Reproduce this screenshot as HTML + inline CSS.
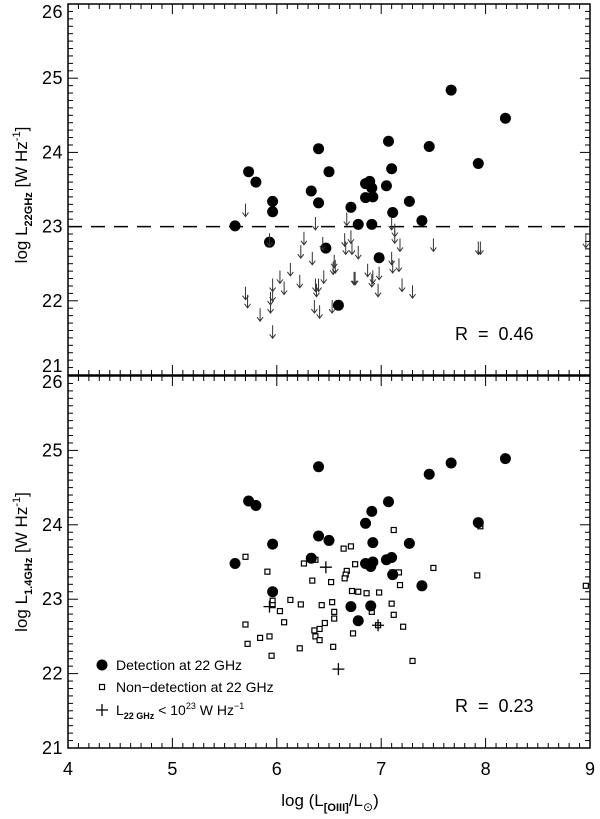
<!DOCTYPE html>
<html><head><meta charset="utf-8"><style>
html,body{margin:0;padding:0;background:#fff;}
svg{display:block;font-family:"Liberation Sans",sans-serif;}
</style></head><body>
<svg id="chart" width="600" height="819" viewBox="0 0 600 819" xmlns="http://www.w3.org/2000/svg"></svg>
<script>
const xTicks=[4,5,6,7,8,9];
const yTicks=[21,22,23,24,25,26];
const topDetX=[5.60,5.73,5.80,5.96,5.96,5.93,6.40,6.50,6.33,6.40,6.47,6.59,6.71,6.78,6.89,6.85,6.91,6.85,6.92,6.91,6.98,7.07,7.10,7.05,7.11,7.27,7.39,7.46,7.67,7.93,8.19];
const topDetY=[23.01,23.74,23.60,23.34,23.20,22.79,24.05,23.74,23.48,23.32,22.71,21.94,23.26,23.03,23.61,23.58,23.52,23.39,23.40,23.03,22.58,24.15,23.78,23.55,23.19,23.34,23.08,24.08,24.84,23.85,24.46];
const topLimX=[5.70,5.93,5.96,5.96,5.94,5.94,5.70,5.72,5.84,5.96,6.03,6.07,6.13,6.22,6.23,6.26,6.34,6.37,6.37,6.40,6.45,6.36,6.41,6.53,6.55,6.54,6.65,6.66,6.67,6.71,6.72,6.74,6.75,6.78,6.87,6.91,6.98,6.97,7.10,7.13,7.13,7.10,7.11,7.18,7.17,7.20,7.30,7.50,7.93,7.95,8.96,6.44,6.56,6.38,6.92];
const topLimY=[23.31,22.91,22.30,22.17,22.12,22.01,22.19,22.08,21.90,21.67,22.41,22.26,22.51,22.35,22.75,22.93,22.66,23.13,22.30,22.30,22.41,22.01,21.94,22.01,22.62,22.53,22.91,22.80,23.19,22.95,22.80,22.39,22.39,22.74,22.50,22.36,22.46,22.23,23.13,23.04,22.95,22.66,22.55,22.84,22.57,22.30,22.21,22.84,22.80,22.80,22.89,22.86,22.55,22.23,22.41];
const botDetX=[5.60,5.73,5.80,5.96,5.96,6.40,6.40,6.50,6.33,6.71,6.78,6.85,6.91,6.92,6.85,6.90,6.92,6.90,7.07,7.05,7.10,7.11,7.27,7.39,7.46,7.67,7.93,8.19];
const botDetY=[23.48,24.32,24.26,23.74,23.10,24.78,23.85,23.79,23.55,22.90,22.71,24.02,24.18,23.76,23.48,23.44,23.50,22.91,24.31,23.53,23.56,23.33,23.75,23.18,24.68,24.83,24.03,24.89];
const botNonX=[5.70,5.91,5.96,5.96,6.03,6.07,6.13,6.23,6.26,6.37,6.34,6.52,6.43,6.53,6.55,6.55,6.46,6.36,6.41,6.37,6.41,6.22,6.54,6.64,6.71,6.75,6.67,6.66,6.65,6.72,6.78,6.86,6.98,6.91,6.73,7.12,7.17,7.18,7.10,7.12,7.21,7.30,7.50,7.92,7.95,8.96,5.70,5.72,5.84,5.93,5.95,6.97,7.11];
const botNonY=[23.57,23.37,22.98,22.92,22.84,22.69,22.99,22.93,23.48,23.53,23.25,23.23,22.92,22.96,22.83,22.74,22.68,22.58,22.60,22.50,22.45,22.34,22.36,23.68,23.71,23.47,23.38,23.33,23.28,23.11,23.10,23.08,23.09,22.83,22.54,23.93,23.36,23.19,22.94,22.79,22.63,22.17,23.42,23.32,23.98,23.18,22.66,22.40,22.48,22.50,22.24,22.65,23.36];
const botPlusX=[6.47,5.93,6.97,6.59];
const botPlusY=[23.43,22.90,22.65,22.06];

const NS="http://www.w3.org/2000/svg";
const svg=document.getElementById('chart');
const L=68,R=590;
const P1={top:4,bot:375},P2={top:376,bot:748};
const sx=v=>L+(v-4)/5*(R-L);
const syF=p=>v=>p.bot-(v-21)/5*(p.bot-p.top);
const sy1=syF(P1),sy2=syF(P2);
function mk(tag,attrs,parent){const e=document.createElementNS(NS,tag);for(const k in attrs)e.setAttribute(k,attrs[k]);(parent||svg).appendChild(e);return e;}

function panel(p,sy,name,isTop){
  const g=mk('g',{});
  
  
  const fr=mk('rect',{x:L,y:p.top,width:R-L,height:p.bot-p.top,fill:'none',stroke:'#000','stroke-width':1.5},g);
  
  
  for(let i=0;i<=50;i++){
    const v=21+i*0.1,y=sy(v),len=(i%10===0)?10:5;
    mk('line',{x1:L,x2:L+len,y1:y,y2:y,stroke:'#000','stroke-width':1},g);
    mk('line',{x1:R,x2:R-len,y1:y,y2:y,stroke:'#000','stroke-width':1},g);
    const xv=4+i*0.1,x=sx(xv);
    mk('line',{x1:x,x2:x,y1:p.bot,y2:p.bot-len,stroke:'#000','stroke-width':1},g);
    mk('line',{x1:x,x2:x,y1:p.top,y2:p.top+len,stroke:'#000','stroke-width':1},g);
  }
  yTicks.forEach(v=>{
    let off=6;
    if(isTop&&v===21)off=-3;
    if(isTop&&v===26)off=14;
    if(!isTop&&v===26)off=12;
    const t=mk('text',{x:L-5,y:sy(v)+off,'text-anchor':'end','font-size':18,'letter-spacing':'0.5'},g);
    t.textContent=v;
    
    
  });
  return g;
}
const g1=panel(P1,sy1,'top-panel',true);
const g2=panel(P2,sy2,'bottom-panel',false);

xTicks.forEach(v=>{
  const t=mk('text',{x:sx(v),y:775,'text-anchor':'middle','font-size':18});
  t.textContent=v;
  
  
});

const dl=mk('line',{x1:L,x2:R,y1:sy1(23),y2:sy1(23),stroke:'#000','stroke-width':1.5,'stroke-dasharray':'14,9'},g1);



function circle(x,y,g){
  const c=mk('circle',{cx:x,cy:y,r:5.5,fill:'#000'},g);
  
  
}
topDetX.forEach((v,i)=>circle(sx(v),sy1(topDetY[i]),g1));
topLimX.forEach((v,i)=>{
  const x=sx(v),y=sy1(topLimY[i]);
  const a=mk('path',{d:`M${x},${y} L${x},${y+13} M${x-3},${y+9} L${x},${y+13} L${x+3},${y+9}`,stroke:'#333',fill:'none','stroke-width':1},g1);
  
  
});
botNonX.forEach((v,i)=>{
  const x=sx(v),y=sy2(botNonY[i]);
  const s=mk('rect',{x:x-2.5,y:y-2.5,width:5,height:5,fill:'#fff',stroke:'#000','stroke-width':1.2},g2);
  
  
});
botDetX.forEach((v,i)=>circle(sx(v),sy2(botDetY[i]),g2));
botPlusX.forEach((v,i)=>{
  const x=sx(v),y=sy2(botPlusY[i]);
  const p=mk('path',{d:`M${x-6},${y} L${x+6},${y} M${x},${y-6} L${x},${y+6}`,stroke:'#000','stroke-width':1.3,fill:'none'},g2);
  
  
});
</script>
<svg style="position:absolute;left:0;top:0" width="600" height="819" xmlns="http://www.w3.org/2000/svg" font-family="Liberation Sans, sans-serif">
  <text x="455" y="340" font-size="18">R&#160;&#160;=&#160;&#160;0.46</text>
  <text x="455" y="712" font-size="18">R&#160;&#160;=&#160;&#160;0.23</text>
  <text transform="translate(27,195) rotate(-90)" text-anchor="middle" font-size="17">log L<tspan font-size="11" font-weight="bold" dy="5">22GHz</tspan><tspan dy="-5"> [W Hz</tspan><tspan font-size="11" dy="-7">-1</tspan><tspan dy="7">]</tspan></text>
  <text transform="translate(27,562) rotate(-90)" text-anchor="middle" font-size="17">log L<tspan font-size="11" font-weight="bold" dy="5">1.4GHz</tspan><tspan dy="-5"> [W Hz</tspan><tspan font-size="11" dy="-7">-1</tspan><tspan dy="7">]</tspan></text>
  <text x="330" y="806" text-anchor="middle" font-size="17">log (L<tspan font-size="11" font-weight="bold" dy="5">[OIII]</tspan><tspan dy="-5">/L</tspan><tspan font-size="12" dy="5">⊙</tspan><tspan dy="-5">)</tspan></text>
  <g font-size="14">
    <circle cx="102" cy="665" r="5.5" fill="#000"/>
    <text x="116" y="670">Detection at 22 GHz</text>
    <rect x="99.5" y="684.5" width="5" height="5" fill="#fff" stroke="#000" stroke-width="1.2"/>
    <text x="116" y="692">Non−detection at 22 GHz</text>
    <path d="M96,710 L108,710 M102,704 L102,716" stroke="#000" stroke-width="1.3"/>
    <text x="116" y="715">L<tspan font-size="9" font-weight="bold" dy="4">22 GHz</tspan><tspan dy="-4"> &lt; 10</tspan><tspan font-size="9" dy="-6">23</tspan><tspan dy="6"> W Hz</tspan><tspan font-size="9" dy="-6">−1</tspan></text>
  </g>
</svg>
</body></html>
